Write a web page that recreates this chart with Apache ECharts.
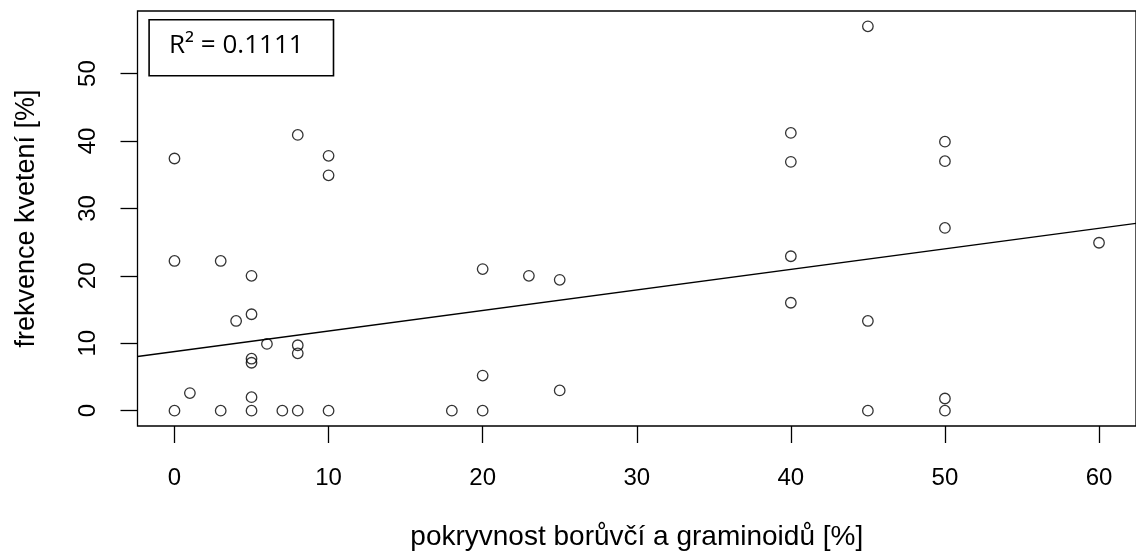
<!DOCTYPE html>
<html>
<head>
<meta charset="utf-8">
<script src="https://cdn.jsdelivr.net/npm/echarts@6/dist/echarts.min.js"></script>
<style>
  html, body { margin: 0; padding: 0; background: #fff; }
  #chart { width: 1136px; height: 559px; }
</style>
</head>
<body>
<div id="chart"></div>
<script>
// Cover of bilberry and graminoids [%] vs. flowering frequency [%]
const coverX = [
  0, 8, 10, 10,
  0, 3, 5, 5, 4, 6, 8, 8, 5, 5, 1, 5,
  0, 3, 5, 7, 8, 10,
  20, 18, 20, 25, 20, 23, 25,
  45, 40, 40, 50, 50, 50, 60, 40, 40, 45, 45, 50, 50
];
const floweringY = [
  37.4, 40.9, 37.8, 34.9,
  22.2, 22.2, 20.0, 14.3, 13.3, 9.9, 9.7, 8.5, 7.7, 7.1, 2.6, 2.0,
  0, 0, 0, 0, 0, 0,
  5.2, 0, 0, 3.0, 21.0, 20.0, 19.4,
  57.0, 41.2, 36.9, 39.9, 37.0, 27.1, 24.9, 22.9, 16.0, 13.3, 0, 1.8, 0
];
const xTicks = [0, 10, 20, 30, 40, 50, 60];
const yTicks = [0, 10, 20, 30, 40, 50];

// Fitted linear trend
const fitIntercept = 8.76;
const fitSlope = 0.305;
const rSquaredText = 'R² = 0.1111';

const xRange = [-2.4, 62.4];
const yRange = [-2.28, 59.28];

const points = coverX.map((x, i) => [x, floweringY[i]]);
const trend = xRange.map(x => [x, fitIntercept + fitSlope * x]);

const chart = echarts.init(document.getElementById('chart'), null, { renderer: 'canvas' });
const sans = 'Liberation Sans, Arial, sans-serif';
const tickFont = { fontFamily: sans, fontSize: 24, color: '#000' };
const tickStyle = { color: '#000', width: 1.3 };

chart.setOption({
  animation: false,
  backgroundColor: '#fff',
  grid: {
    left: 137.5, right: -9.4, top: 11, bottom: 133,
    show: true, borderColor: '#000', borderWidth: 1.3, backgroundColor: 'transparent'
  },
  xAxis: {
    type: 'value', min: xRange[0], max: xRange[1],
    axisLine: { show: false, onZero: false },
    splitLine: { show: false },
    axisTick: { show: true, inside: false, length: 17, customValues: xTicks, lineStyle: tickStyle },
    axisLabel: Object.assign({ customValues: xTicks, margin: 40 }, tickFont),
    name: 'pokryvnost borůvčí a graminoidů [%]',
    nameLocation: 'middle', nameGap: 97,
    nameTextStyle: { fontFamily: sans, fontSize: 28, color: '#000' }
  },
  yAxis: {
    type: 'value', min: yRange[0], max: yRange[1],
    axisLine: { show: false, onZero: false },
    splitLine: { show: false },
    axisTick: { show: true, inside: false, length: 17, customValues: yTicks, lineStyle: tickStyle },
    axisLabel: Object.assign({ customValues: yTicks, rotate: 90, margin: 37 }, tickFont),
    name: 'frekvence kvetení [%]',
    nameLocation: 'middle', nameRotate: 90, nameGap: 97,
    nameTextStyle: { fontFamily: sans, fontSize: 27, color: '#000' }
  },
  series: [
    {
      type: 'line', data: trend, showSymbol: false, silent: true,
      lineStyle: { color: '#000', width: 1.3 }, clip: true, z: 2
    },
    {
      type: 'scatter', data: points, symbol: 'circle', symbolSize: 10.5,
      itemStyle: { color: 'transparent', borderColor: '#000', borderWidth: 1.3 }, z: 3
    }
  ],
  graphic: [
    {
      type: 'rect', left: 148.3, top: 19, z: 10,
      shape: { width: 184.4, height: 56 },
      style: { fill: '#fff', stroke: '#000', lineWidth: 1.6 }
    },
    {
      type: 'text', left: 169, top: 33, z: 11,
      style: { text: rSquaredText, fontFamily: 'Open Sans, sans-serif', fontSize: 26, fill: '#000' }
    }
  ]
});
</script>
</body>
</html>
